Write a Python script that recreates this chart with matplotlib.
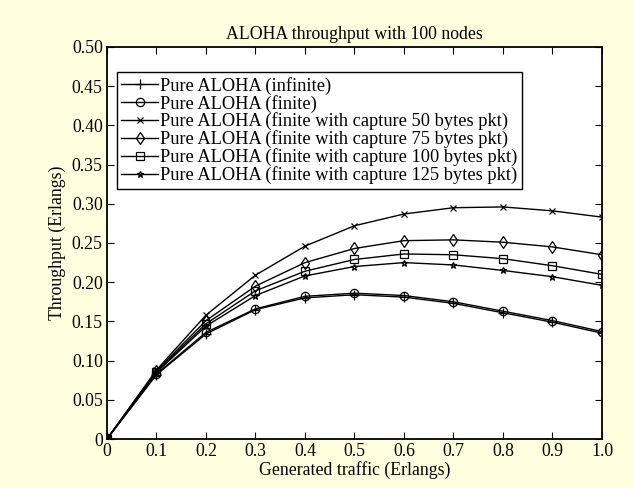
import numpy as np
import matplotlib
matplotlib.use('Agg')
import matplotlib.pyplot as plt

traffic = [0, 0.1, 0.2, 0.3, 0.4, 0.5, 0.6, 0.7, 0.8, 0.9, 1.0]

pure_infinite = [0, 0.082, 0.134, 0.165, 0.180, 0.184, 0.181, 0.173, 0.161, 0.149, 0.135]
pure_finite = [0, 0.083, 0.136, 0.166, 0.182, 0.186, 0.183, 0.175, 0.163, 0.151, 0.137]
capture_50 = [0, 0.088, 0.158, 0.209, 0.246, 0.272, 0.287, 0.295, 0.296, 0.291, 0.283]
capture_75 = [0, 0.087, 0.151, 0.195, 0.225, 0.243, 0.253, 0.254, 0.251, 0.245, 0.235]
capture_100 = [0, 0.086, 0.147, 0.189, 0.214, 0.229, 0.236, 0.235, 0.230, 0.221, 0.210]
capture_125 = [0, 0.085, 0.144, 0.183, 0.208, 0.220, 0.225, 0.222, 0.215, 0.207, 0.196]

labels = [
    'Pure ALOHA (infinite)',
    'Pure ALOHA (finite)',
    'Pure ALOHA (finite with capture 50 bytes pkt)',
    'Pure ALOHA (finite with capture 75 bytes pkt)',
    'Pure ALOHA (finite with capture 100 bytes pkt)',
    'Pure ALOHA (finite with capture 125 bytes pkt)',
]
xtick_labels = ['0', '0.1', '0.2', '0.3', '0.4', '0.5', '0.6', '0.7', '0.8', '0.9', '1.0']
ytick_labels = ['0', '0.05', '0.10', '0.15', '0.20', '0.25', '0.30', '0.35', '0.40', '0.45', '0.50']

plt.rcParams['font.family'] = ['Liberation Serif', 'DejaVu Serif']
plt.rcParams['font.size'] = 12.8

fig = plt.figure(figsize=(6.33, 4.88), dpi=100, facecolor='#FFFFE0')
ax = fig.add_axes([0.169, 0.1004, 0.782, 0.8033])

series = [pure_infinite, pure_finite, capture_50, capture_75, capture_100, capture_125]
markers = ['+', 'o', 'x', 'd', 's', '*']
sizes = [7, 6, 4, 6, 6, 5]
for ys, m, ms, lab in zip(series, markers, sizes, labels):
    ax.plot(traffic, ys, color='black', linewidth=1.0, marker=m, markersize=ms,
            markerfacecolor='none', markeredgecolor='black', markeredgewidth=0.9,
            label=lab)

ax.set_xlim(0, 1.0)
ax.set_ylim(0, 0.5)
ax.set_xticks(traffic)
ax.set_xticklabels(xtick_labels)
ax.set_yticks(np.linspace(0, 0.5, 11))
ax.set_yticklabels(ytick_labels)
ax.tick_params(direction='in', top=True, right=True, length=5, width=0.8, pad=3)
for s in ax.spines.values():
    s.set_linewidth(1.3)

ax.set_title('ALOHA throughput with 100 nodes', fontsize=12.8, pad=6)
ax.set_xlabel('Generated traffic (Erlangs)', labelpad=1)
ax.set_ylabel('Throughput (Erlangs)', labelpad=4)

leg = ax.legend(loc='upper left', bbox_to_anchor=(0.02, 0.936), fancybox=False,
                edgecolor='black', framealpha=1, labelspacing=0.0, handlelength=2.0,
                handletextpad=0.1, borderpad=0.25, borderaxespad=0, fontsize=13.2)
leg.get_frame().set_linewidth(1.0)

fig.savefig('out.png', dpi=100, facecolor=fig.get_facecolor())
